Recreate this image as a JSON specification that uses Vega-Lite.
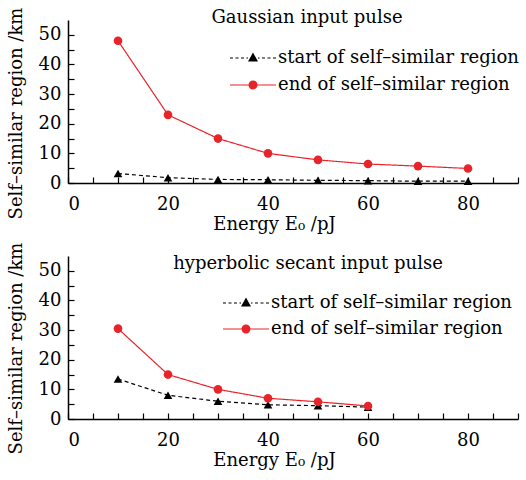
{
  "$schema": "https://vega.github.io/schema/vega-lite/v6.json",
  "background": "white",
  "padding": {"left": 7, "top": 7, "right": 5, "bottom": 5},
  "datasets": {
    "gauss": [
      {"energy": 10, "km": 3.2, "series": "start of self–similar region"},
      {"energy": 20, "km": 1.8, "series": "start of self–similar region"},
      {"energy": 30, "km": 1.2, "series": "start of self–similar region"},
      {"energy": 40, "km": 1.1, "series": "start of self–similar region"},
      {"energy": 50, "km": 0.9, "series": "start of self–similar region"},
      {"energy": 60, "km": 0.8, "series": "start of self–similar region"},
      {"energy": 70, "km": 0.6, "series": "start of self–similar region"},
      {"energy": 80, "km": 0.6, "series": "start of self–similar region"},
      {"energy": 10, "km": 48, "series": "end of self–similar region"},
      {"energy": 20, "km": 23, "series": "end of self–similar region"},
      {"energy": 30, "km": 15, "series": "end of self–similar region"},
      {"energy": 40, "km": 10, "series": "end of self–similar region"},
      {"energy": 50, "km": 7.8, "series": "end of self–similar region"},
      {"energy": 60, "km": 6.4, "series": "end of self–similar region"},
      {"energy": 70, "km": 5.7, "series": "end of self–similar region"},
      {"energy": 80, "km": 4.9, "series": "end of self–similar region"}
    ],
    "sech": [
      {"energy": 10, "km": 13.5, "series": "start of self–similar region"},
      {"energy": 20, "km": 8, "series": "start of self–similar region"},
      {"energy": 30, "km": 6, "series": "start of self–similar region"},
      {"energy": 40, "km": 4.8, "series": "start of self–similar region"},
      {"energy": 50, "km": 4.5, "series": "start of self–similar region"},
      {"energy": 60, "km": 4, "series": "start of self–similar region"},
      {"energy": 10, "km": 30.5, "series": "end of self–similar region"},
      {"energy": 20, "km": 15, "series": "end of self–similar region"},
      {"energy": 30, "km": 10, "series": "end of self–similar region"},
      {"energy": 40, "km": 7, "series": "end of self–similar region"},
      {"energy": 50, "km": 5.8, "series": "end of self–similar region"},
      {"energy": 60, "km": 4.4, "series": "end of self–similar region"}
    ]
  },
  "vconcat": [
    {
      "width": 450,
      "height": 163,
      "title": {"text": "Gaussian input pulse", "anchor": "middle", "dx": 14, "dy": 31, "offset": 2, "baseline": "middle"},
      "data": {"name": "gauss"},
      "encoding": {
        "x": {"field": "energy", "type": "quantitative", "title": "Energy E₀ /pJ",
          "scale": {"domain": [0, 90], "nice": false, "zero": false},
          "axis": {"values": [0, 5, 10, 15, 20, 25, 30, 35, 40, 45, 50, 55, 60, 65, 70, 75, 80, 85, 90],
            "labelExpr": "datum.value % 20 === 0 ? datum.label : ''", "titleX": 206, "labelPadding": 18, "titlePadding": 2}},
        "y": {"field": "km", "type": "quantitative", "title": "Self–similar region /km",
          "scale": {"domain": [0, 55], "nice": false, "zero": false},
          "axis": {"values": [0, 5, 10, 15, 20, 25, 30, 35, 40, 45, 50],
            "labelExpr": "datum.value % 10 === 0 ? datum.label : ''", "titleY": 93, "labelPadding": 13, "titlePadding": 13}},
        "color": {"field": "series", "type": "nominal",
          "scale": {"domain": ["start of self–similar region", "end of self–similar region"], "range": ["#000000", "#e8242b"]},
          "legend": {"legendX": 153, "legendY": 29, "rowPadding": 9}}
      },
      "layer": [
        {
          "mark": {"type": "line", "strokeWidth": 1.2},
          "encoding": {
            "strokeDash": {"field": "series", "type": "nominal", "legend": null,
              "scale": {"domain": ["start of self–similar region", "end of self–similar region"], "range": [[4, 3], [1, 0]]}}
          }
        },
        {
          "transform": [{"filter": "datum.series === 'start of self–similar region'"}],
          "mark": {"type": "point", "filled": true, "opacity": 1, "shape": "triangle-up", "size": 75}
        },
        {
          "transform": [{"filter": "datum.series === 'end of self–similar region'"}],
          "mark": {"type": "point", "filled": true, "opacity": 1, "shape": "circle", "size": 75}
        }
      ]
    },
    {
      "width": 450,
      "height": 163,
      "title": {"text": "hyperbolic secant input pulse", "anchor": "middle", "dx": 15, "dy": 33, "offset": -7, "baseline": "middle"},
      "data": {"name": "sech"},
      "encoding": {
        "x": {"field": "energy", "type": "quantitative", "title": "Energy E₀ /pJ",
          "scale": {"domain": [0, 90], "nice": false, "zero": false},
          "axis": {"values": [0, 5, 10, 15, 20, 25, 30, 35, 40, 45, 50, 55, 60, 65, 70, 75, 80, 85, 90],
            "labelExpr": "datum.value % 20 === 0 ? datum.label : ''", "titleX": 206, "labelPadding": 18, "titlePadding": 2}},
        "y": {"field": "km", "type": "quantitative", "title": "Self–similar region /km",
          "scale": {"domain": [0, 55], "nice": false, "zero": false},
          "axis": {"values": [0, 5, 10, 15, 20, 25, 30, 35, 40, 45, 50],
            "labelExpr": "datum.value % 10 === 0 ? datum.label : ''", "titleY": 92, "labelPadding": 13, "titlePadding": 13}},
        "color": {"field": "series", "type": "nominal",
          "scale": {"domain": ["start of self–similar region", "end of self–similar region"], "range": ["#000000", "#e8242b"]},
          "legend": {"legendX": 146, "legendY": 38, "rowPadding": 8}}
      },
      "layer": [
        {
          "mark": {"type": "line", "strokeWidth": 1.2},
          "encoding": {
            "strokeDash": {"field": "series", "type": "nominal", "legend": null,
              "scale": {"domain": ["start of self–similar region", "end of self–similar region"], "range": [[4, 3], [1, 0]]}}
          }
        },
        {
          "transform": [{"filter": "datum.series === 'start of self–similar region'"}],
          "mark": {"type": "point", "filled": true, "opacity": 1, "shape": "triangle-up", "size": 75}
        },
        {
          "transform": [{"filter": "datum.series === 'end of self–similar region'"}],
          "mark": {"type": "point", "filled": true, "opacity": 1, "shape": "circle", "size": 75}
        }
      ]
    }
  ],
  "spacing": 73,
  "bounds": "flush",
  "resolve": {"scale": {"color": "independent", "x": "independent", "y": "independent", "strokeDash": "independent"}, "legend": {"color": "independent"}},
  "config": {
    "font": "DejaVu Serif",
    "view": {"stroke": null},
    "title": {"font": "DejaVu Serif", "fontSize": 18, "fontWeight": "normal", "color": "black"},
    "axis": {
      "grid": false,
      "domainColor": "black",
      "domainWidth": 1.5,
      "tickColor": "black",
      "tickWidth": 1.2,
      "tickSize": -6,
      "labelFont": "DejaVu Serif",
      "labelFontSize": 18,
      "labelColor": "black",
      "titleFont": "DejaVu Serif",
      "titleFontSize": 18,
      "titleFontWeight": "normal",
      "titleColor": "black"
    },
    "legend": {
      "orient": "none",
      "title": null,
      "labelFont": "DejaVu Serif",
      "labelFontSize": 18,
      "labelColor": "black",
      "labelLimit": 400,
      "symbolSize": 100,
      "labelOffset": 39,
      "padding": 0,
      "symbolStrokeWidth": 0,
      "symbolOpacity": 1,
      "symbolType": {"expr": "datum.index === 0 ? 'M0,-0.1H0.6V0.1H0Z M1.1,-0.1H1.7V0.1H1.1Z M2.2,-0.1H2.8V0.1H2.2Z M3.3,-0.1H3.6V0.1H3.3Z M5.6,-0.1H5.9V0.1H5.6Z M6.4,-0.1H7V0.1H6.4Z M7.5,-0.1H8.1V0.1H7.5Z M8.6,-0.1H9.2V0.1H8.6Z M4.6,-1.1L5.6,0.7L3.6,0.7Z' : 'M0,-0.12H9.2V0.12H0Z M5.5,0A0.9,0.9 0 1,1 3.7,0A0.9,0.9 0 1,1 5.5,0Z'"}
    }
  }
}
